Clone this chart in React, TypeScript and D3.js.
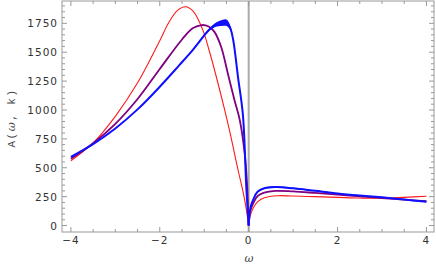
import React from 'react'
import * as d3 from 'd3'

// spectral curves: [omega, A]
const redCurve: [number, number][] = [
  [-4, 560], [-3.5, 715], [-3, 945], [-2.5, 1235], [-2, 1600], [-1.8, 1755],
  [-1.6, 1862], [-1.42, 1893], [-1.25, 1855], [-1.03, 1691], [-0.9, 1530],
  [-0.75, 1320], [-0.54, 1000], [-0.4, 770], [-0.25, 500], [-0.12, 280],
  [-0.05, 134], [0, 0], [0.04, 90], [0.1, 150], [0.2, 205], [0.35, 240],
  [0.66, 258], [1, 255], [1.5, 250], [2, 244], [2.5, 238], [3, 236],
  [3.5, 244], [4, 254]
]

const purpleCurve: [number, number][] = [
  [-4, 578], [-3.5, 712], [-3, 880], [-2.5, 1095], [-2, 1355], [-1.5, 1610],
  [-1.26, 1707], [-1.05, 1735], [-0.9, 1722], [-0.77, 1676], [-0.62, 1547],
  [-0.47, 1318], [-0.32, 1086], [-0.2, 913], [-0.09, 624], [-0.04, 380],
  [0, 0], [0.03, 120], [0.1, 190], [0.2, 255], [0.35, 285], [0.6, 300],
  [1, 295], [1.5, 282], [2, 268], [2.5, 252], [3, 238], [3.5, 224], [4, 210]
]

const blueCurve: [number, number][] = [
  [-4, 595], [-3.5, 705], [-3, 840], [-2.5, 1005], [-2, 1201], [-1.56, 1388],
  [-1.26, 1518], [-0.9, 1690], [-0.75, 1735], [-0.6, 1752], [-0.5, 1754],
  [-0.42, 1715], [-0.35, 1610], [-0.24, 1285], [-0.13, 960], [-0.05, 307],
  [0, 0], [0.02, 100], [0.05, 170], [0.1, 222], [0.2, 292], [0.35, 322],
  [0.6, 333], [1, 322], [1.5, 300], [2, 278], [2.5, 260], [3, 244],
  [3.5, 225], [4, 206]
]

// half thickness of the blue band (same omegas as blueCurve)
const blueSpread: number[] = [
  0, 0, 0, 0, 0, 0, 4, 10, 18, 26, 28, 22, 12, 6, 4, 2,
  0, 0, 0, 4, 6, 6, 6, 5, 3, 2, 0, 0, 0, 0
]

const xTickLabels = [-4, -2, 0, 2, 4]
const yTickLabels = [0, 250, 500, 750, 1000, 1250, 1500, 1750]

const W = 436
const H = 270
const left = 62
const right = 434
const top = 1
const bottom = 232

// split a curve at omega = 0 so the cusp stays sharp
const halves = (pts: [number, number][]) => [
  pts.filter(d => d[0] <= 0),
  pts.filter(d => d[0] >= 0)
]

const App = () => {
  const x = d3.scaleLinear().domain([-4.2, 4.17]).range([left, right])
  const y = d3.scaleLinear().domain([-56, 1943]).range([bottom, top])

  const line = d3.line<[number, number]>()
    .x(d => x(d[0]))
    .y(d => y(d[1]))
    .curve(d3.curveCatmullRom.alpha(0.5))

  const spreadOf = (w: number) => blueSpread[blueCurve.findIndex(d => d[0] === w)]
  const band = d3.area<[number, number]>()
    .x(d => x(d[0]))
    .y0(d => y(d[1] - spreadOf(d[0])))
    .y1(d => y(d[1] + spreadOf(d[0])))
    .curve(d3.curveCatmullRom.alpha(0.5))

  const xMinor = d3.range(-4, 4.01, 0.5).filter(v => !xTickLabels.includes(v))
  const yMinor = d3.range(0, 1901, 50).filter(v => !yTickLabels.includes(v))

  const tickFont = { fontFamily: 'DejaVu Sans', fontSize: 10.5, fill: '#333', letterSpacing: 1 }
  const frame = '#999'

  const series = [
    { pts: redCurve, color: '#ff1a1a', width: 1.1 },
    { pts: purpleCurve, color: '#800080', width: 1.8 },
    { pts: blueCurve, color: '#1010ff', width: 2 }
  ]

  return (
    <svg width={W} height={H} style={{ position: 'absolute', left: 0, top: 0, background: '#fff' }}>
      <defs>
        <clipPath id="plotclip">
          <rect x={left} y={top} width={right - left} height={bottom - top} />
        </clipPath>
      </defs>
      <g clipPath="url(#plotclip)">
        <line x1={x(0)} x2={x(0)} y1={top} y2={bottom} stroke="#aaa" strokeWidth={2} />
        {series.map(s => halves(s.pts).map((h, i) => (
          <path key={s.color + i} d={line(h) ?? ''} fill="none" stroke={s.color} strokeWidth={s.width} />
        )))}
        {halves(blueCurve).map((h, i) => (
          <path key={'band' + i} d={band(h) ?? ''} fill="#1010ff" stroke="none" />
        ))}
      </g>

      {/* frame */}
      <rect x={left} y={top} width={right - left} height={bottom - top} fill="none" stroke={frame} strokeWidth={1} />

      {/* x ticks */}
      {xTickLabels.map(v => (
        <g key={'xt' + v}>
          <line x1={x(v)} x2={x(v)} y1={bottom} y2={bottom - 5} stroke={frame} />
          <line x1={x(v)} x2={x(v)} y1={top} y2={top + 5} stroke={frame} />
          <text x={x(v)} y={243.5} textAnchor="middle" style={tickFont}>
            {v < 0 ? '\u2212' + Math.abs(v) : v}
          </text>
        </g>
      ))}
      {xMinor.map(v => (
        <g key={'xm' + v}>
          <line x1={x(v)} x2={x(v)} y1={bottom} y2={bottom - 3} stroke={frame} />
          <line x1={x(v)} x2={x(v)} y1={top} y2={top + 3} stroke={frame} />
        </g>
      ))}

      {/* y ticks */}
      {yTickLabels.map(v => (
        <g key={'yt' + v}>
          <line x1={left} x2={left + 5} y1={y(v)} y2={y(v)} stroke={frame} />
          <line x1={right} x2={right - 5} y1={y(v)} y2={y(v)} stroke={frame} />
          <text x={58} y={y(v) + 4} textAnchor="end" style={tickFont}>{v}</text>
        </g>
      ))}
      {yMinor.map(v => (
        <g key={'ym' + v}>
          <line x1={left} x2={left + 3} y1={y(v)} y2={y(v)} stroke={frame} />
          <line x1={right} x2={right - 3} y1={y(v)} y2={y(v)} stroke={frame} />
        </g>
      ))}

      {/* axis labels */}
      <text x={249} y={262} textAnchor="middle"
        style={{ fontFamily: 'DejaVu Serif', fontStyle: 'italic', fontSize: 11, fill: '#444' }}>ω</text>
      <text transform="translate(15,118) rotate(-90)" textAnchor="middle"
        style={{ fontFamily: 'Liberation Mono', fontSize: 11, fill: '#444', letterSpacing: 1.5 }}>
        A(<tspan style={{ fontFamily: 'DejaVu Serif', fontStyle: 'italic' }}>ω</tspan>, k)
      </text>
    </svg>
  )
}

export default App
